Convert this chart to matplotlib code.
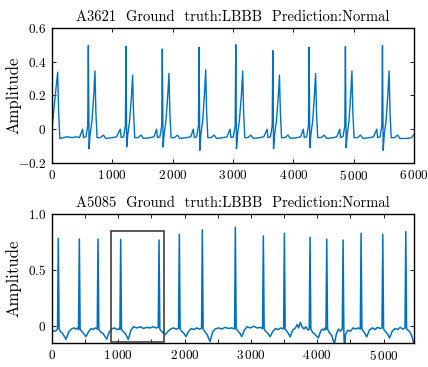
import matplotlib
matplotlib.use('Agg')
import matplotlib.pyplot as plt
from matplotlib.patches import Rectangle

# ---- data ----------------------------------------------------------------
top_title = 'A3621  Ground  truth:LBBB  Prediction:Normal'
bot_title = 'A5085  Ground  truth:LBBB  Prediction:Normal'

# A3621 trace (sample index, amplitude)
top_pts = [
    (0, 0.000), (40, 0.150), (94, 0.338), (110, 0.100), (130, -0.055), (250, -0.045), (330, -0.050), (400, -0.045),
    (455, -0.050), (507, 0.000), (522, -0.050), (562, -0.045), (592, 0.020), (602, 0.495), (614, -0.115), (632, -0.030),
    (662, 0.050), (692, 0.200), (712, 0.345), (727, 0.100), (747, -0.050), (800, -0.050), (852, -0.035), (892, -0.055),
    (1000, -0.050), (1070, -0.045),
    (1131, 0.000), (1146, -0.050), (1186, -0.045), (1216, 0.020), (1226, 0.490), (1238, -0.105), (1256, -0.030),
    (1286, 0.050), (1316, 0.190), (1336, 0.320), (1351, 0.100), (1371, -0.050), (1426, -0.050), (1476, -0.035),
    (1516, -0.055), (1626, -0.050), (1690, -0.045),
    (1733, 0.000), (1748, -0.050), (1788, -0.045), (1818, 0.020), (1828, 0.475), (1840, -0.105), (1858, -0.030),
    (1888, 0.050), (1918, 0.200), (1938, 0.330), (1953, 0.100), (1973, -0.050), (2028, -0.050), (2078, -0.035),
    (2118, -0.055), (2228, -0.050), (2300, -0.045),
    (2342, 0.000), (2357, -0.050), (2397, -0.045), (2427, 0.020), (2437, 0.485), (2449, -0.125), (2467, -0.030),
    (2497, 0.050), (2527, 0.210), (2547, 0.352), (2562, 0.100), (2582, -0.050), (2637, -0.050), (2687, -0.035),
    (2727, -0.055), (2837, -0.050), (2900, -0.045),
    (2950, 0.000), (2965, -0.050), (3005, -0.045), (3035, 0.020), (3045, 0.500), (3057, -0.115), (3075, -0.030),
    (3105, 0.050), (3138, 0.200), (3160, 0.345), (3175, 0.100), (3195, -0.050), (3245, -0.050), (3295, -0.035),
    (3335, -0.055), (3445, -0.050), (3510, -0.045),
    (3564, 0.000), (3579, -0.050), (3619, -0.045), (3649, 0.020), (3659, 0.465), (3671, -0.115), (3689, -0.030),
    (3719, 0.050), (3749, 0.190), (3769, 0.320), (3784, 0.100), (3804, -0.050), (3859, -0.050), (3909, -0.035),
    (3949, -0.055), (4059, -0.050), (4120, -0.045),
    (4165, 0.000), (4180, -0.050), (4220, -0.045), (4250, 0.020), (4260, 0.485), (4272, -0.110), (4290, -0.030),
    (4320, 0.050), (4348, 0.200), (4368, 0.330), (4383, 0.100), (4403, -0.050), (4460, -0.050), (4510, -0.035),
    (4550, -0.055), (4660, -0.050), (4720, -0.045),
    (4767, 0.000), (4782, -0.050), (4822, -0.045), (4852, 0.020), (4862, 0.490), (4874, -0.110), (4892, -0.030),
    (4922, 0.050), (4950, 0.210), (4970, 0.345), (4985, 0.100), (5005, -0.050), (5062, -0.050), (5112, -0.035),
    (5152, -0.055), (5262, -0.050), (5330, -0.045),
    (5381, 0.000), (5396, -0.050), (5436, -0.045), (5466, 0.020), (5476, 0.495), (5488, -0.125), (5506, -0.030),
    (5536, 0.050), (5566, 0.210), (5586, 0.345), (5601, 0.100), (5621, -0.050), (5676, -0.050), (5726, -0.035),
    (5766, -0.055), (5880, -0.055), (5960, -0.050), (6000, -0.030),
]

# A5085 trace (sample index, amplitude)
bot_pts = [
    (0, -0.040), (30, -0.050), (60, -0.045), (83, -0.030),
    (95, 0.782), (107, -0.030), (125, -0.050), (160, -0.070), (211, -0.122), (250, -0.060), (290, -0.030),
    (330, -0.020), (360, -0.030), (390, -0.020), (400, -0.035),
    (412, 0.776), (424, -0.030), (445, -0.050), (470, -0.065), (513, -0.098), (550, -0.055), (590, -0.025),
    (620, -0.035), (650, -0.020), (682, -0.030),
    (694, 0.776), (706, -0.030), (730, -0.055), (770, -0.070), (825, -0.120), (860, -0.060), (900, -0.030),
    (940, -0.020), (980, -0.035), (1010, -0.025), (1024, -0.035),
    (1036, 0.773), (1048, -0.030), (1070, -0.050), (1105, -0.070), (1151, -0.122), (1190, -0.040), (1230, -0.010),
    (1280, -0.020), (1330, -0.010), (1380, -0.025), (1430, -0.015), (1480, -0.020), (1530, -0.010), (1570, -0.020),
    (1602, -0.015),
    (1614, 0.767), (1626, -0.030), (1650, -0.050), (1710, -0.080), (1750, -0.050), (1790, -0.030), (1830, -0.020),
    (1870, -0.030), (1908, -0.025),
    (1920, 0.818), (1932, -0.030), (1955, -0.050), (1985, -0.065), (2021, -0.098), (2060, -0.050), (2100, -0.025),
    (2140, -0.035), (2180, -0.020), (2220, -0.030), (2255, -0.025),
    (2267, 0.857), (2279, -0.030), (2300, -0.050), (2340, -0.080), (2383, -0.143), (2420, -0.060), (2460, -0.030),
    (2510, -0.020), (2560, -0.030), (2610, -0.015), (2660, -0.025), (2710, -0.020), (2753, -0.030),
    (2765, 0.881), (2777, -0.030), (2800, -0.045), (2830, -0.065), (2861, -0.098), (2900, -0.040), (2940, -0.010),
    (2990, -0.020), (3040, -0.005), (3090, -0.020), (3140, -0.015), (3175, -0.025),
    (3187, 0.804), (3199, -0.030), (3220, -0.050), (3255, -0.070), (3290, -0.098), (3330, -0.050), (3370, -0.025),
    (3410, -0.035), (3450, -0.020), (3492, -0.030),
    (3504, 0.828), (3516, -0.030), (3540, -0.050), (3565, -0.070), (3590, -0.100), (3630, -0.040), (3670, -0.020),
    (3700, 0.010), (3720, -0.020), (3745, 0.030), (3770, -0.010), (3800, -0.030), (3830, -0.010), (3860, -0.040),
    (3879, -0.030),
    (3891, 0.792), (3903, -0.030), (3930, -0.060), (3970, -0.080), (4017, -0.110), (4050, -0.050), (4080, -0.030),
    (4100, -0.040), (4120, -0.020), (4131, -0.035),
    (4143, 0.774), (4155, -0.030), (4180, -0.060), (4220, -0.090), (4258, -0.165), (4290, -0.070), (4320, -0.030),
    (4350, -0.050), (4377, -0.030),
    (4389, 0.767), (4401, -0.050), (4412, -0.300), (4425, -0.080), (4460, -0.040), (4500, -0.050), (4540, -0.020),
    (4580, -0.030), (4620, -0.020), (4649, -0.030),
    (4661, 0.828), (4673, -0.030), (4695, -0.050), (4720, -0.070), (4746, -0.100), (4785, -0.040), (4830, -0.020),
    (4870, -0.035), (4910, -0.015), (4950, -0.025), (4976, -0.020),
    (4988, 0.818), (5000, -0.030), (5025, -0.050), (5060, -0.075), (5090, -0.110), (5130, -0.050), (5170, -0.025),
    (5210, -0.035), (5250, -0.015), (5290, -0.030), (5323, -0.020),
    (5335, 0.842), (5347, -0.030), (5370, -0.040), (5400, -0.060), (5430, -0.100), (5460, -0.170),
]

# highlighted window on A5085 (x from/to, y from/to)
box_x = [890, 1694]
box_y = [-0.149, 0.85]

top_xticks = [0, 1000, 2000, 3000, 4000, 5000, 6000]
top_xlabels = ['$0$', r'$1\,000$', r'$2\,000$', r'$3\,000$', r'$4\,000$', r'$5\,000$', r'$6\,000$']
top_yticks = [-0.2, 0, 0.2, 0.4, 0.6]
top_ylabels = ['$-0.2$', '$0$', '$0.2$', '$0.4$', '$0.6$']

bot_xticks = [0, 500, 1000, 1500, 2000, 2500, 3000, 3500, 4000, 4500, 5000]
bot_xlabels = ['$0$', '', r'$1\,000$', '', r'$2\,000$', '', r'$3\,000$', '', r'$4\,000$', '', r'$5\,000$']
bot_yticks = [0, 0.5, 1.0]
bot_ylabels = ['$0$', '$0.5$', '$1.0$']

# ---- drawing ---------------------------------------------------------------
plt.rcParams['font.family'] = 'cmr10'
plt.rcParams['mathtext.fontset'] = 'cm'
plt.rcParams['axes.linewidth'] = 1.0

line_color = '#0072BD'

fig = plt.figure(figsize=(4.28, 3.67), dpi=100)
ax1 = fig.add_axes([0.1215, 0.556, 0.846, 0.368])
ax2 = fig.add_axes([0.1215, 0.0654, 0.846, 0.3515])


def style(ax, xt, xl, yt, yl, xlim, ylim, title):
    ax.set_xlim(*xlim)
    ax.set_ylim(*ylim)
    ax.set_xticks(xt)
    ax.set_xticklabels(xl)
    ax.set_yticks(yt)
    ax.set_yticklabels(yl)
    ax.tick_params(direction='in', length=3, width=0.6, top=True, right=True,
                   labelsize=9.5, pad=4)
    ax.set_ylabel('Amplitude', fontsize=12)
    ax.yaxis.set_label_coords(-0.083, 0.5)
    ax.set_title(title, fontsize=10.5, pad=5)


ax1.plot([p[0] for p in top_pts], [p[1] for p in top_pts], color=line_color, linewidth=1.0)
style(ax1, top_xticks, top_xlabels, top_yticks, top_ylabels, (0, 6000), (-0.2, 0.6), top_title)

ax2.plot([p[0] for p in bot_pts], [p[1] for p in bot_pts], color=line_color, linewidth=1.1)
style(ax2, bot_xticks, bot_xlabels, bot_yticks, bot_ylabels, (0, 5460), (-0.155, 1.0), bot_title)
ax2.add_patch(Rectangle((box_x[0], box_y[0]), box_x[1] - box_x[0], box_y[1] - box_y[0],
                        fill=False, edgecolor='#404040', linewidth=1.2, zorder=3))

fig.savefig('out.png', dpi=100)
